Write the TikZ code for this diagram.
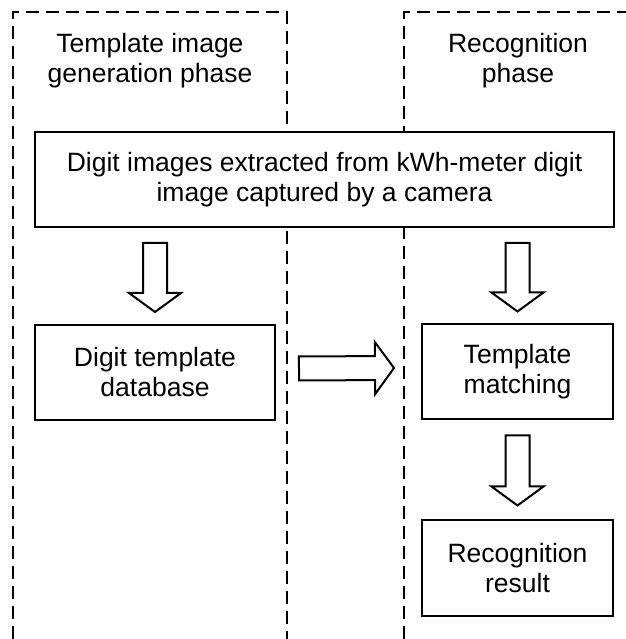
\documentclass[tikz,border=0pt]{standalone}
\usepackage{fontspec}
\setmainfont{Liberation Sans}
\usetikzlibrary{calc}
\tikzset{
	box/.style={draw, line width=2pt, fill=white, align=center, inner sep=0pt},
	panel/.style={line width=2pt, dash pattern=on 13pt off 7pt},
	fatarrow/.style={draw, line width=2pt, fill=white, line join=miter},
}
\newcommand\fatarrow[2]{%
	\coordinate (fa-s) at (#1);
	\coordinate (fa-e) at (#2);
	\coordinate (fa-b) at ($(fa-e)!19pt!(fa-s)$);
	\draw[fatarrow] ($(fa-s)!12pt!90:(fa-e)$) -- ($(fa-b)!12pt!-90:(fa-s)$) -- ($(fa-b)!26pt!-90:(fa-s)$)
		-- (fa-e) -- ($(fa-b)!26pt!90:(fa-s)$) -- ($(fa-b)!12pt!90:(fa-s)$) -- ($(fa-s)!12pt!-90:(fa-e)$) -- cycle;}

\begin{document}
\begin{tikzpicture}[x=1pt, y=1pt, font=\fontsize{26.5}{30}\selectfont]
			%%%%% START %%%%%
			\useasboundingbox (0, 0) rectangle (625, 639);
			
			\draw[panel] (13, 0) -- (13, 627) -- (287, 627) -- (287, 0);
			\draw[panel] (404, 0) -- (404, 627) -- (640, 627);
			
			\node[align=center] (lefttitle) at (150, 578) {Template image\\generation phase};
			\node[align=center] (righttitle) at (518, 578) {Recognition\\phase};
			
			\node[box, minimum width=579, minimum height=95] (digits) at (324.5, 459.5) {Digit images extracted from kWh-meter digit\\image captured by a camera};
			\node[box, minimum width=240, minimum height=95] (db) at (155, 266.5) {Digit template\\database};
			\node[box, minimum width=191, minimum height=95] (match) at (517.5, 267) {Template\\matching};
			\node[box, minimum width=191, minimum height=96] (result) at (517.5, 70.5) {Recognition\\result};
			
			\fatarrow{$(digits.south -| db)+(0, -15)$}{$(db.north)+(0, 12)$}
			\fatarrow{$(digits.south -| match)+(0, -15)$}{$(match.north)+(0, 12)$}
			\fatarrow{$(db.east)+(23, 4)$}{$(match.west)+(-27, 4)$}
			\fatarrow{$(match.south)+(0, -15)$}{$(result.north)+(0, 14)$}
			
			%%%%% END %%%%%
\end{tikzpicture}
\end{document}
